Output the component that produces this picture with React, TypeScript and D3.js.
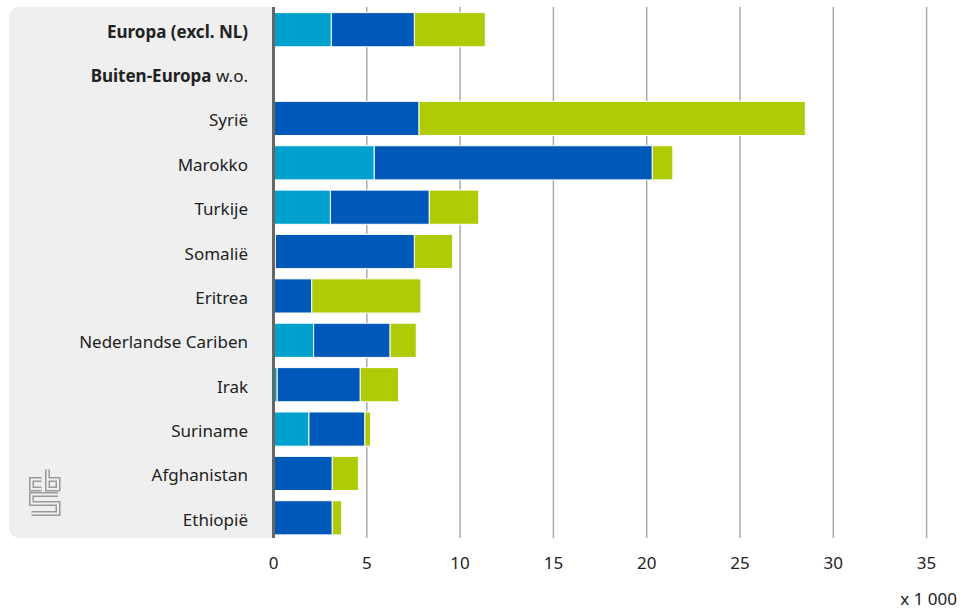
import React from "react";
import * as d3 from "d3";

const categories = [
  "Europa (excl. NL)",
  "Buiten-Europa",
  "Syrië",
  "Marokko",
  "Turkije",
  "Somalië",
  "Eritrea",
  "Nederlandse Cariben",
  "Irak",
  "Suriname",
  "Afghanistan",
  "Ethiopië",
];
const boldCategories = ["Europa (excl. NL)", "Buiten-Europa"];
const categorySuffix: Record<string, string> = { "Buiten-Europa": " w.o." };

const seriesKeys = ["reeks1", "reeks2", "reeks3"];
const seriesColors = ["#00a1cd", "#0058b8", "#afcb05"];

// values in thousands
const reeks1 = [3.1, 0, 0, 5.4, 3.05, 0.1, 0, 2.15, 0.2, 1.9, 0, 0];
const reeks2 = [4.45, 0, 7.8, 14.9, 5.3, 7.45, 2.05, 4.1, 4.45, 3.0, 3.15, 3.15];
const reeks3 = [3.8, 0, 20.7, 1.1, 2.65, 2.05, 5.85, 1.4, 2.05, 0.3, 1.4, 0.5];

const xTicks = [0, 5, 10, 15, 20, 25, 30, 35];
const unitLabel = "x 1 000";

const W = 966;
const H = 610;
const FONT = "'Noto Sans', 'DejaVu Sans', sans-serif";

export default function App() {
  const rows = categories.map((c, i) => ({
    cat: c,
    reeks1: reeks1[i],
    reeks2: reeks2[i],
    reeks3: reeks3[i],
  }));
  const stack = d3.stack<any>().keys(seriesKeys);
  const layers = stack(rows);

  const x = d3.scaleLinear().domain([0, 35]).range([273.5, 926.6]);
  const y = d3
    .scaleBand<string>()
    .domain(categories)
    .range([7.5, 540])
    .paddingInner(0.23)
    .paddingOuter(0.115);

  const top = 7;
  const bottom = 538;
  const panelLeft = 9;
  const panelRight = 273;
  const r = 10;
  const panelPath = `M ${panelLeft + r} ${top} H ${panelRight} V ${bottom} H ${panelLeft + r} A ${r} ${r} 0 0 1 ${panelLeft} ${bottom - r} V ${top + r} A ${r} ${r} 0 0 1 ${panelLeft + r} ${top} Z`;

  const logoPaths = [
    "M 41.5 479.5 H 31.5 V 489 H 41.5",
    "M 47.5 469.5 V 489 H 58 V 479.5 H 47.5",
    "M 58 494.5 H 31.5 V 503.5 H 58 V 513.5 H 31.5",
  ];

  return (
    <svg width={W} height={H} style={{ position: "absolute", left: 0, top: 0, display: "block" }} fontFamily={FONT}>
      <rect x={0} y={0} width={W} height={H} fill="#ffffff" />
      <path d={panelPath} fill="#efefef" />
      {/* logo */}
      <g fill="none" strokeLinejoin="miter" strokeLinecap="butt">
        {logoPaths.map((d, i) => (
          <path key={"lo" + i} d={d} stroke="#9a9a9a" strokeWidth={5} />
        ))}
        {logoPaths.map((d, i) => (
          <path key={"li" + i} d={d} stroke="#efefef" strokeWidth={2} />
        ))}
      </g>
      {/* gridlines */}
      {xTicks.slice(1).map((t) => (
        <line key={"g" + t} x1={x(t)} x2={x(t)} y1={top} y2={bottom} stroke="#ababab" strokeWidth={1.5} />
      ))}
      {/* bars */}
      {layers.map((layer, li) => (
        <g key={layer.key} fill={seriesColors[li]}>
          {layer.map((d, i) => {
            const w = x(d[1]) - x(d[0]);
            if (w <= 0) return null;
            return (
              <rect
                key={i}
                x={x(d[0])}
                y={y(categories[i])}
                width={w}
                height={y.bandwidth()}
                stroke="#ffffff"
                strokeWidth={1}
              />
            );
          })}
        </g>
      ))}
      {/* axis line */}
      <line x1={x(0)} x2={x(0)} y1={top} y2={bottom} stroke="#666666" strokeWidth={3} />
      {/* category labels */}
      {categories.map((c) => (
        <text
          key={c}
          x={248}
          y={(y(c) as number) + y.bandwidth() / 2 + 8}
          textAnchor="end"
          fontSize={17}
          fill="#222222"
          fontWeight={boldCategories.includes(c) ? 700 : 400}
        >
          {c}
          {categorySuffix[c] ? <tspan fontWeight={400}>{categorySuffix[c]}</tspan> : null}
        </text>
      ))}
      {/* tick labels */}
      {xTicks.map((t) => (
        <text key={"t" + t} x={x(t)} y={569} textAnchor="middle" fontSize={17} fill="#222222">
          {t}
        </text>
      ))}
      <text x={957} y={605} textAnchor="end" fontSize={17} fill="#222222">
        {unitLabel}
      </text>
    </svg>
  );
}
